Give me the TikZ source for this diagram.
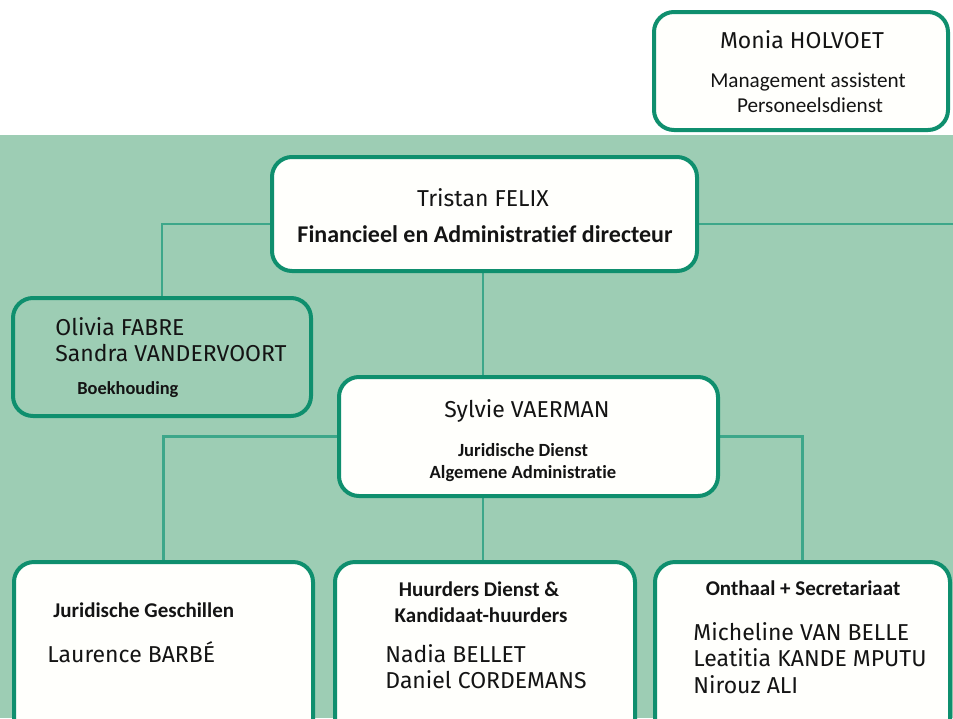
\documentclass[tikz,border=0pt]{standalone}
\usepackage{fontspec}
\setmainfont{Carlito}[Ligatures=NoCommon]
\newfontfamily\namefont{Fira Sans}
\definecolor{bggreen}{HTML}{9DCDB4}
\definecolor{bordergreen}{HTML}{0F8F6E}
\definecolor{linegreen}{HTML}{3DA78A}
\definecolor{boxwhite}{HTML}{FFFFFC}
\definecolor{txt}{HTML}{141414}
\pgfdeclarelayer{back}
\pgfdeclarelayer{links}
\pgfsetlayers{back,links,main}
\begin{document}
\begin{tikzpicture}[x=0.5pt,y=-0.5pt,
  box/.style={draw=bordergreen, line width=2pt, rounded corners=10pt, fill=boxwhite, inner sep=0pt},
  conn/.style={draw=linegreen, line width=1.25pt},
  nm/.style={inner sep=0pt, text=txt, font=\namefont\fontsize{11.5}{13}\selectfont},
  lb/.style={inner sep=0pt, text=txt, font=\bfseries\fontsize{10.5}{12}\selectfont},
  rg/.style={inner sep=0pt, text=txt, font=\fontsize{10.6}{12}\selectfont}]
\useasboundingbox (0,0) rectangle (953,718);
\begin{pgfonlayer}{back}
  \fill[white] (0,0) rectangle (953,135);
  \fill[bggreen] (0,135) rectangle (953,718);
\end{pgfonlayer}

% boxes
\node[box, minimum width=147pt, minimum height=59pt] (monia) at (801,71) {};
\node[box, minimum width=212.5pt, minimum height=57pt] (tristan) at (484.5,214) {};
\node[box, fill=bggreen, minimum width=149pt, minimum height=59pt] (olivia) at (162,357) {};
\node[box, minimum width=189.5pt, minimum height=59.5pt] (sylvie) at (528.5,436.5) {};
\node[box, minimum width=149.5pt, minimum height=99pt] (jur) at (163.5,661) {};
\node[box, minimum width=150pt, minimum height=99pt] (huur) at (485,661) {};
\node[box, minimum width=147.5pt, minimum height=99pt] (ont) at (802.5,661) {};
\coordinate (rightend) at (960,224);

% connectors
\begin{pgfonlayer}{links}
  \draw[conn] ([yshift=-5pt]tristan.west) -| (olivia.north);
  \draw[conn] ([yshift=-5pt]tristan.east) -- (rightend);
  \draw[conn] ([xshift=-0.75pt]tristan.south) -- ([xshift=-0.75pt]tristan.south |- sylvie.north);
  \draw[conn] ([xshift=-1pt]huur.north) -- ([xshift=-1pt]huur.north |- sylvie.south);
  \draw[conn] (sylvie.west) -| (jur.north);
  \draw[conn] (sylvie.east) -| (ont.north);
\end{pgfonlayer}

% texts
\node[nm, anchor=base] (t1) at (802,48) {Monia HOLVOET};
\node[rg, anchor=base] (t2) at (808,87) {Management assistent};
\node[rg, anchor=base] (t3) at (810,112) {Personeelsdienst};

\node[nm, anchor=base] (t4) at (483,206) {Tristan FELIX};
\node[lb, anchor=base, font=\bfseries\fontsize{12}{14}\selectfont] (t5) at (485,242) {Financieel en Administratief directeur};

\node[nm, anchor=base west] (t6) at (55,335) {Olivia FABRE};
\node[nm, anchor=base west] (t7) at (55,361) {Sandra VANDERVOORT};
\node[lb, anchor=base west, font=\bfseries\fontsize{9.2}{11}\selectfont] (t8) at (77,394) {Boekhouding};

\node[nm, anchor=base] (t9) at (527,417) {Sylvie VAERMAN};
\node[lb, anchor=base, font=\bfseries\fontsize{9.3}{11}\selectfont] (t10) at (523,456) {Juridische Dienst};
\node[lb, anchor=base, font=\bfseries\fontsize{9.3}{11}\selectfont] (t11) at (523,478) {Algemene Administratie};

\node[lb, anchor=base west] (t12) at (53,617) {Juridische Geschillen};
\node[nm, anchor=base west] (t13) at (47,662) {Laurence BARBÉ};

\node[lb, anchor=base] (t14) at (479,596) {Huurders Dienst \&};
\node[lb, anchor=base] (t15) at (481,622) {Kandidaat-huurders};
\node[nm, anchor=base west] (t16) at (385,662) {Nadia BELLET};
\node[nm, anchor=base west] (t17) at (385,688) {Daniel CORDEMANS};

\node[lb, anchor=base] (t18) at (803,595) {Onthaal + Secretariaat};
\node[nm, anchor=base west] (t19) at (693,640) {Micheline VAN BELLE};
\node[nm, anchor=base west] (t20) at (693,666) {Leatitia KANDE MPUTU};
\node[nm, anchor=base west] (t21) at (693,693) {Nirouz ALI};
\end{tikzpicture}
\end{document}
